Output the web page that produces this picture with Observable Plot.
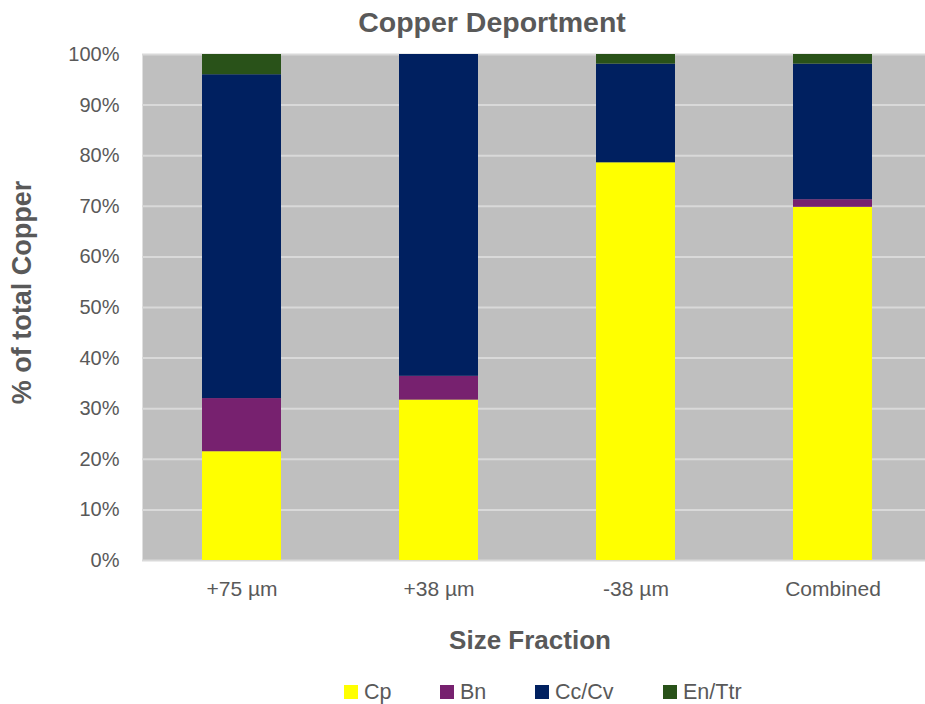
<!DOCTYPE html>
<html><head><meta charset="utf-8">
<script src="https://cdn.jsdelivr.net/npm/d3@7"></script>
<script src="https://cdn.jsdelivr.net/npm/@observablehq/plot@0.6"></script>
<style>
body{margin:0;background:#fff;font-family:"Liberation Sans",Arial,sans-serif;width:925px;height:704px;position:relative;overflow:hidden;color:#595959}
#title{position:absolute;top:0;left:0;width:984px;height:44px;line-height:44px;text-align:center;font-size:28.5px;font-weight:bold;color:#595959}
#chart{position:absolute;top:44px;left:0}
#legend{position:absolute;top:680px;left:344px;height:24px;display:flex;align-items:center;font-size:21.5px;color:#595959}
#legend .item{display:flex;align-items:center;gap:6px;position:absolute;top:0;height:24px}
#legend .sw{width:14px;height:14px;display:inline-block}
</style></head>
<body>
<div id="title">Copper Deportment</div>
<div id="chart"></div>
<div id="legend"></div>
<script>
const categories = ["+75 µm", "+38 µm", "-38 µm", "Combined"];
const minerals = ["Cp", "Bn", "Cc/Cv", "En/Ttr"];
const cp = [21.5, 31.7, 78.6, 69.8];
const bn = [10.5, 4.7, 0, 1.5];
const cc = [64.0, 63.6, 19.5, 26.8];
const en = [4.0, 0, 1.9, 1.9];
const colors = ["#ffff00", "#77216f", "#002060", "#295219"];
const yTicks = [0, 10, 20, 30, 40, 50, 60, 70, 80, 90, 100];
const legendOffsets = [0, 96, 191, 319];

const series = [cp, bn, cc, en];
const rows = [];
categories.forEach((c, i) => {
  minerals.forEach((m, j) => rows.push({cat: c, mineral: m, value: series[j][i]}));
});

const chart = Plot.plot({
  width: 925, height: 616,
  marginLeft: 142, marginRight: 0, marginTop: 10, marginBottom: 100,
  style: {fontFamily: "'Liberation Sans', Arial, sans-serif", color: "#595959", background: "transparent"},
  x: {domain: categories, range: [142, 932], paddingInner: 0.6, paddingOuter: 0.3},
  y: {domain: [0, 100]},
  color: {domain: minerals, range: colors},
  marks: [
    Plot.frame({fill: "#bfbfbf", stroke: null}),
    Plot.gridY(yTicks, {stroke: "#d9d9d9", strokeOpacity: 1, strokeWidth: 2}),
    Plot.barY(rows, {x: "cat", y: "value", fill: "mineral", z: "mineral"}),
    Plot.axisY(yTicks, {tickSize: 0, tickPadding: 23, fontSize: 20, tickFormat: d => d + "%", label: null}),
    Plot.axisX({tickSize: 0, tickPadding: 21, fontSize: 21, label: null}),
    Plot.text(["% of total Copper"], {frameAnchor: "left", textAnchor: "middle", lineAnchor: "middle", rotate: -90, dx: -120, dy: -15, fontSize: 27, fontWeight: "bold", fill: "#595959"}),
    Plot.text(["Size Fraction"], {frameAnchor: "bottom", textAnchor: "middle", lineAnchor: "middle", dx: -4, dy: 80, fontSize: 26, fontWeight: "bold", fill: "#595959"})
  ]
});
document.getElementById("chart").appendChild(chart);

const legend = document.getElementById("legend");
minerals.forEach((m, j) => {
  const it = document.createElement("div");
  it.className = "item";
  it.style.left = legendOffsets[j] + "px";
  const sw = document.createElement("span");
  sw.className = "sw";
  sw.style.background = colors[j];
  const t = document.createElement("span");
  t.textContent = m;
  it.appendChild(sw); it.appendChild(t);
  legend.appendChild(it);
});
</script>
</body></html>
